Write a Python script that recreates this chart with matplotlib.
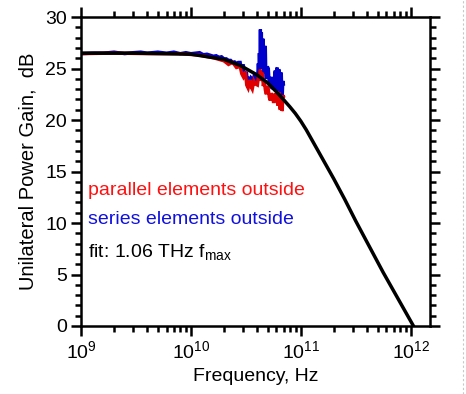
import matplotlib
matplotlib.use('Agg')
import matplotlib.pyplot as plt
from matplotlib.ticker import LogLocator, MultipleLocator, NullFormatter
from matplotlib.lines import Line2D
import numpy as np

plt.rcParams['font.family'] = ['Liberation Sans', 'DejaVu Sans']
plt.rcParams['mathtext.fontset'] = 'custom'
plt.rcParams['mathtext.rm'] = 'Liberation Sans'
plt.rcParams['mathtext.default'] = 'regular'

# measured data, frequency in GHz, gain in dB
blue_f = [1.0, 1.3, 1.6, 2.0, 2.5, 3.0, 3.5, 4.0, 5.0, 6.0, 7.0, 8.0, 9.0, 10, 11, 12, 13, 14,
          15, 16, 17, 18, 19, 20, 21, 22, 23, 24, 25, 26, 27, 28.1, 29, 30, 30.6, 31.3, 32,
          32.6, 33.2, 34, 34.6, 35.4, 36.2, 37, 37.8, 38.6, 39.4, 40.3, 41.1, 41.5, 42.0,
          42.4, 42.9, 43.4, 43.8, 44.2, 44.7, 45.1, 45.6, 46.1, 46.6, 47.1, 47.6, 48.1, 48.6,
          49.6, 50.7, 51.7, 52.8, 53.9, 55.1, 56, 57.5, 58.1, 58.7, 59.3, 60, 60.6, 61.2,
          61.8, 62.5, 63.1, 63.8, 64.5, 65.2, 65.8, 66.5, 67.2, 67.9, 68.6, 69.4]
blue_g = [26.45, 26.5, 26.5, 26.6, 26.45, 26.55, 26.6, 26.5, 26.6, 26.5, 26.6, 26.45, 26.55,
          26.45, 26.5, 26.55, 26.35, 26.4, 26.3, 26.2, 26.25, 26.1, 26.15, 25.95, 25.95,
          25.8, 25.8, 25.6, 25.65, 25.5, 25.6, 25.6, 24.8, 25.4, 24.4, 24.0, 24.7, 23.8,
          23.4, 24.2, 23.5, 24.1, 24.0, 23.6, 24.4, 24.3, 23.8, 23.7, 25.5, 24.6, 26.5, 25.2,
          28.8, 25.0, 28.5, 25.4, 26.0, 27.9, 27.6, 24.8, 24.5, 27.2, 27.0, 24.4, 24.0, 25.2,
          25.0, 23.4, 23.2, 24.2, 23.0, 24.0, 23.0, 24.6, 24.8, 23.0, 22.8, 25.0, 25.1, 23.2,
          23.0, 24.9, 24.8, 22.8, 22.5, 24.6, 24.5, 22.6, 22.4, 23.8, 23.5]

red_f = [1.0, 2.0, 4.0, 8.0, 12, 16, 20, 22, 24, 26, 28.1, 29, 30, 31.3, 32.2, 33.2, 34.6,
         35.4, 36.2, 37.4, 38.6, 40.3, 41.1, 42.0, 42.9, 43.8, 44.7, 45.6, 46.6, 47.6, 48.6,
         49.6, 50.7, 51.7, 52.8, 53.9, 55.1, 56.3, 57.5, 58.7, 60, 61.2, 61.8, 62.5, 63.1,
         63.8, 64.5, 65.2, 65.8, 66.5, 67.2, 67.9, 68.6, 69.4]
red_g = [26.45, 26.5, 26.45, 26.45, 26.3, 26.05, 25.75, 25.4, 25.6, 25.1, 25.2, 24.5, 24.2,
         24.7, 23.4, 23.1, 23.9, 23.2, 23.0, 23.8, 23.5, 23.4, 24.2, 24.0, 24.9, 23.8, 24.6,
         23.3, 23.8, 22.9, 22.5, 23.3, 23.0, 22.2, 21.9, 22.6, 22.4, 21.8, 21.8, 22.6, 22.0,
         22.8, 21.4, 21.6, 22.7, 22.5, 21.2, 21.0, 22.2, 22.0, 20.9, 21.0, 22.4, 22.3]

# fitted curve
fit_f = [1.0, 3.2, 10, 20, 28.2, 39.8, 50.1, 63.1, 79.4, 89.1, 100, 112.2, 125.9, 158.5,
         199.5, 251.2, 316.2, 562.3, 1060]
fit_g = [26.5, 26.5, 26.4, 25.9, 25.3, 24.4, 23.6, 22.5, 21.3, 20.65, 19.9, 19.05, 18.1,
         16.2, 14.3, 12.3, 10.2, 5.2, 0.0]

fig = plt.figure(figsize=(4.66, 3.94), dpi=100)
ax = fig.add_axes([0.1738, 0.1726, 0.749, 0.784])

ax.plot(np.array(blue_f) * 1e9, blue_g, color='#0000cc', lw=2.4, solid_joinstyle='miter')
ax.plot(np.array(red_f) * 1e9, red_g, color='#e00000', lw=2.4, solid_joinstyle='miter')
ax.plot(np.array(fit_f) * 1e9, fit_g, color='black', lw=2.5)

ax.set_xscale('log')
ax.set_xlim(1e9, 1.5e12)
ax.set_ylim(0, 30)

ax.xaxis.set_major_locator(LogLocator(base=10, numticks=10))
ax.xaxis.set_minor_locator(LogLocator(base=10, subs=np.arange(2, 10), numticks=20))
ax.xaxis.set_minor_formatter(NullFormatter())
ax.yaxis.set_major_locator(MultipleLocator(5))
ax.yaxis.set_minor_locator(MultipleLocator(1))

for s in ax.spines.values():
    s.set_linewidth(1.8)
ax.tick_params(which='both', direction='out', top=True, right=True, width=1.8,
               labelsize=14, colors='black')
ax.tick_params(which='major', length=7)
ax.tick_params(which='minor', length=4)
ax.tick_params(axis='y', pad=3)

ax.set_xlabel('Frequency, Hz', fontsize=14, labelpad=4)
ax.set_ylabel('Unilateral Power Gain,  dB', fontsize=14.5, labelpad=6)

ax.text(0.02, 0.44, 'parallel elements outside', transform=ax.transAxes,
        color='#ff1010', fontsize=14, va='center')
ax.text(0.02, 0.345, 'series elements outside', transform=ax.transAxes,
        color='#1010e0', fontsize=14, va='center')
ax.text(0.02, 0.24, r'fit: 1.06 THz f$_{max}$', transform=ax.transAxes,
        color='black', fontsize=14, va='center')

fig.add_artist(Line2D([0.993, 0.993], [0, 1], transform=fig.transFigure,
                      color='#c8c8c8', lw=0.8, ls=(0, (2, 2))))

fig.savefig('out.png', dpi=100)
